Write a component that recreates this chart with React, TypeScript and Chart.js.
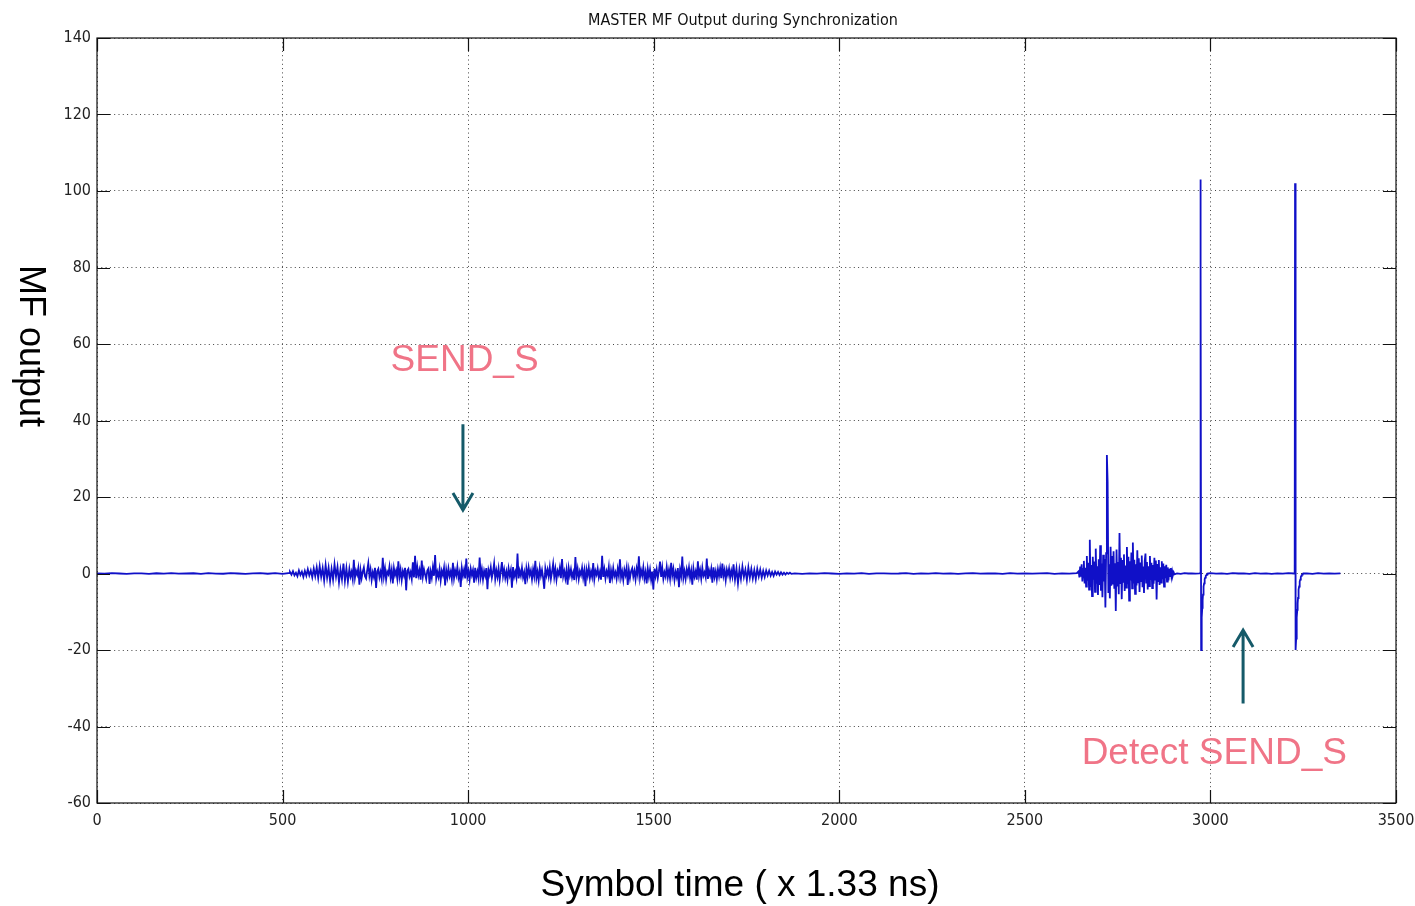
import { useEffect, useRef } from "react";
import { Chart, registerables } from "chart.js";

Chart.register(...registerables);

// ---------- data ----------
const CHART_TITLE = "MASTER MF Output during Synchronization";
const X_TITLE = "Symbol time ( x 1.33 ns)";
const Y_TITLE = "MF output";
const X_TICKS = [0, 500, 1000, 1500, 2000, 2500, 3000, 3500];
const Y_TICKS = [-60, -40, -20, 0, 20, 40, 60, 80, 100, 120, 140];

// quiet baseline before first burst (start 0, step 20)
const baseLeft = [0.03, -0.06, 0.08, 0.0, -0.08, 0.05, 0.02, -0.1, 0.06, -0.03, 0.08, -0.05, 0.0, 0.06, -0.08, 0.1, -0.02, -0.06, 0.08, 0.0, -0.1, 0.05, 0.08, -0.06, 0.1, -0.12, 0.15];
// SEND_S burst: rise (start 520, step 4)
const burst1Rise = [
  0.4, -0.3, 0.6, -0.5, 0.2, -0.7, 0.8, -0.4, 0.5, -0.9,
  0.7, -0.6, 1.1, -0.5, 0.8, -1.0, 1.3, -0.7, 1.6, -1.2,
  1.9, -0.9, 1.4, -1.8, 2.2, -1.1, 1.5, -2.0, 1.2, -1.6,
  2.4, -0.8, 1.7, -2.3, 1.1, -1.5, 2.6, -1.9, 1.4, -2.1,
];
// SEND_S burst: body (start 680, step 3)
const burst1Body = [
  1.2, -0.8, 0.4, -1.5, 3.6, -1.1, 0.7, -0.3, 1.4, -2.9, 0.9, -1.2, 0.5, 1.6, -0.7,
  -1.3, 0.8, 2.7, -0.6, 1.1, -1.7, 0.3, -0.9, 1.5, -3.8, 0.6, 1.2, -1.0, 0.4, -1.4,
  4.1, -0.7, 1.3, -1.6, 0.5, -0.2, 1.8, -1.1, 0.9, -2.6, 1.4, -0.4, 0.8, -1.3, 3.2,
  -0.9, 1.0, -1.7, 0.6, -0.5, 1.5, -4.4, 0.7, 1.2, -0.8, 0.3, -1.4, 2.9, -1.0, 4.6,
  -1.2, 1.7, -0.5, 0.9, -1.6, 3.4, -0.8, 1.1, -0.3, -1.5, 0.8, 1.3, -2.7, 0.5, -1.1,
  1.6, -0.6, 4.8, -1.3, 0.4, -0.9, 1.2, -1.8, 0.7, -0.4, 1.5, -3.1, 0.9, -1.0, 1.3,
  -0.7, 0.5, -1.5, 2.8, -1.2, 0.8, -0.5, 1.7, -1.1, 0.3, -3.5, 1.4, -0.6, 1.0, -1.3,
  3.9, -0.9, 0.6, -1.6, 1.2, -0.4, 0.9, -2.4, 1.5, -1.0, 0.5, -1.3, 4.2, -0.8, 1.1,
  -1.5, 0.7, -0.6, 1.4, -4.1, 0.9, -0.3, 1.6, -1.1, 0.4, 2.6, -1.4, 0.8, -0.9, 1.3,
  -1.7, 0.6, 3.0, -0.7, 1.0, -1.2, 0.5, -1.6, 1.3, -0.5, 0.9, -3.7, 1.7, -0.8, 0.4,
  -1.1, 5.2, -1.3, 0.7, -0.6, 1.5, -1.0, 0.3, -2.8, 1.2, -0.9, 1.6, -0.4, 0.8, -1.5,
  1.1, -0.7, 3.3, -1.2, 0.5, -1.8, 1.4, -0.6, 0.9, -1.1, -4.0, 1.3, -0.5, 1.0, -0.8,
  1.6, -1.4, 0.4, 2.5, -0.9, 1.2, -1.6, 0.7, -0.3, 1.5, -1.2, 3.8, -0.8, 0.6, -1.3,
  0.9, -2.9, 1.4, -0.5, 1.1, -1.0, 0.3, -1.7, 4.3, -0.7, 1.2, -1.4, 0.6, -0.4, 1.5,
  -1.1, 0.8, -3.3, 1.0, -0.6, 1.6, -1.2, 0.5, -0.9, 2.7, -1.5, 0.7, -0.3, 1.3, -1.0,
  0.4, -1.6, 4.6, -0.9, 1.1, -1.3, 0.6, -0.5, 1.7, -2.5, 0.8, -1.1, 1.4, -0.7, 0.3,
  -1.4, 1.2, -0.6, 3.7, -1.0, 0.5, -1.7, 1.0, -0.4, 1.5, -3.0, 0.9, -1.2, 0.6, 1.4,
  -0.8, 0.7, -1.5, 1.3, -0.3, 4.5, -1.1, 0.8, -0.6, 1.6, -1.3, 0.4, -2.6, 1.2, -0.9,
  1.0, -1.6, 0.5, -4.2, 1.3, -0.7, 1.1, -1.2, 0.6, 3.1, -0.9, 1.5, -1.4, 0.3, -0.8,
  1.7, -1.0, 0.9, -1.3, 2.8, -0.5, 1.2, -1.7, 0.4, -0.9, 1.4, -3.6, 1.0, -0.6, 4.4,
  -1.2, 0.6, -1.4, 1.1, -0.4, 1.6, -1.1, 0.7, -2.9, 1.3, -0.8, 0.5, -1.6, 3.2, -0.7,
  0.9, -1.3, 1.5, -0.6, 0.3, -1.0, 3.9, -1.4, 0.8, -0.5, 1.2, -2.4, 1.6, -0.9, 0.6,
  -1.5, 1.1, -0.7, 1.4, -1.2, 2.6, -0.6, 0.9, -1.7, 1.0, -0.4, 1.3, -1.1, 0.7, -0.8,
];
// SEND_S burst: fade (start 1715, step 4)
const burst1Fade = [
  2.4, -1.6, 1.3, -2.6, 1.1, -1.4, 1.8, -0.9, 1.0, -1.7,
  1.6, -1.1, 1.2, -1.3, 0.9, -1.5, 1.2, -0.8, 1.0, -1.1,
  0.7, -0.9, 0.8, -0.5, 0.7, -0.6, 0.4, -0.6, 0.5, -0.3,
  0.4, -0.4, 0.3, -0.3, 0.2, -0.3, 0.2, -0.1, 0.2, -0.1,
];
// quiet baseline (start 1880, step 20)
const baseMid = [0.05, -0.08, 0.03, -0.05, 0.1, 0.0, -0.08, 0.05, -0.03, 0.08, -0.1, 0.03, 0.05, -0.05, 0.0, 0.1, -0.08, 0.03, -0.05, 0.08,
  -0.03, 0.05, -0.1, 0.03, 0.08, -0.05, 0.0, 0.05, -0.08, 0.1, -0.03, 0.05, -0.05, 0.03, 0.08, -0.1, 0.05, -0.03, 0.1];
// reply burst (start 2645, step 2)
const burst2 = [
  0.6, -1.0, 1.8, -0.8, 2.4, -2.1, 1.2, 3.3, -2.6, 1.5, -3.4, 4.6, -1.9, 2.8, -4.2,
  8.8, -3.5, 2.2, -5.9, 4.4, -1.6, 3.1, -4.8, 6.5, -2.7, 1.9, -5.6, 3.7, -3.0, 7.4,
  -4.5, 2.6, -6.2, 4.9, -2.1, 3.8, -8.9, 5.3, 31.0, 24.0, -5.1, 2.4, -6.5, 7.0, -3.2,
  4.6, -2.9, 5.8, -4.0, 2.7, -9.8, 6.3, -3.4, 3.0, -5.4, 10.6, -2.5, 4.1, -6.7, 3.5,
  -2.2, 5.0, -4.6, 2.1, -3.7, 6.9, -2.8, 4.4, -7.1, 3.2, -1.8, 5.5, -3.9, 8.1, -2.6,
  3.6, -5.3, 2.4, -3.1, 6.1, -2.3, 4.0, -4.8, 2.9, -2.0, 4.7, -3.6, 1.8, -5.1, 3.3,
  5.2, -2.4, 3.0, -4.2, 1.9, -3.3, 4.6, -1.7, 2.8, -3.8, 2.2, -2.7, 4.1, -1.6, 3.4,
  -6.8, 2.5, -2.0, 3.5, -3.0, 1.6, -2.4, 3.2, -1.5, 2.6, -3.4, 1.9, -1.2, 2.3, -2.1,
  1.6, -1.8, 1.2, -0.9, 1.4, -0.7, 0.6, -0.4, 0.3, -0.2,
];
// baseline (start 2910, step 10)
const baseRight1 = [0.05, -0.08, 0.1, 0.0, 0.05, -0.05, 0.03];
// first detection peak (start 2972, step 1)
const spike1 = [0.1, 103, 80, -20, -15, -11.5, -9, -7, -5.5, -4.3, -3.4, -2.6, -2, -1.5, -1.1, -0.8, -0.6, -0.4, -0.3, -0.2, -0.1, 0];
// baseline (start 3000, step 15)
const baseRight2 = [0.08, -0.05, 0.05, -0.1, 0.12, 0.0, 0.05, -0.08, 0.1, -0.03, 0.05, -0.1, 0.03, -0.05, 0.08, 0.0];
// second detection peak (start 3227, step 1)
const spike2 = [0.1, 102, 80, -20, -17, -14, -11.5, -9.5, -7.8, -6.4, -5.2, -4.2, -3.4, -2.7, -2.1, -1.6, -1.2, -0.9, -0.6, -0.4, -0.3, -0.2, -0.1, 0];
// baseline (start 3260, step 15)
const baseRight3 = [0.05, -0.08, 0.1, -0.03, 0.05, -0.05, 0.03];

// annotations (data coordinates)
const ANNOTATIONS = [
  { text: "SEND_S", x: 791, y: 53, arrowX: 986, arrowFrom: 39, arrowTo: 16.6 },
  { text: "Detect SEND_S", x: 2653, y: -49.8, arrowX: 3088, arrowFrom: -34, arrowTo: -14.8 },
];

function segment(start: number, step: number, values: number[]) {
  return values.map((v, i) => ({ x: start + i * step, y: v }));
}

const SERIES = [
  ...segment(0, 20, baseLeft),
  ...segment(520, 4, burst1Rise),
  ...segment(680, 3, burst1Body),
  ...segment(1715, 4, burst1Fade),
  ...segment(1880, 20, baseMid),
  ...segment(2645, 2, burst2),
  ...segment(2910, 10, baseRight1),
  ...segment(2972, 1, spike1),
  ...segment(3000, 15, baseRight2),
  ...segment(3227, 1, spike2),
  ...segment(3260, 15, baseRight3),
];

const NARROW = '"Liberation Sans Narrow", "DejaVu Sans Condensed", "Arial Narrow", sans-serif';
const SANS = '"Liberation Sans", Arial, sans-serif';
const PINK = "#f07487";
const TEAL = "#155a69";

const decorPlugin = {
  id: "decor",
  afterDraw(chart: any) {
    const { ctx, chartArea: a, scales } = chart;
    const xs = scales.x;
    const ys = scales.y;
    ctx.save();
    // box
    ctx.strokeStyle = "#111";
    ctx.lineWidth = 1.2;
    ctx.strokeRect(a.left, a.top, a.right - a.left, a.bottom - a.top);
    // inward ticks
    const TL = 13;
    ctx.beginPath();
    X_TICKS.forEach((v) => {
      const px = Math.round(xs.getPixelForValue(v)) + 0.5;
      ctx.moveTo(px, a.bottom);
      ctx.lineTo(px, a.bottom - TL);
      ctx.moveTo(px, a.top);
      ctx.lineTo(px, a.top + TL);
    });
    Y_TICKS.forEach((v) => {
      const py = Math.round(ys.getPixelForValue(v)) + 0.5;
      ctx.moveTo(a.left, py);
      ctx.lineTo(a.left + TL, py);
      ctx.moveTo(a.right, py);
      ctx.lineTo(a.right - TL, py);
    });
    ctx.stroke();

    // title
    ctx.fillStyle = "#111";
    ctx.font = `16px ${NARROW}`;
    ctx.textAlign = "center";
    ctx.textBaseline = "alphabetic";
    ctx.fillText(CHART_TITLE, 743, 25);

    // x title
    ctx.fillStyle = "#000";
    ctx.font = `37px ${SANS}`;
    ctx.textBaseline = "middle";
    ctx.fillText(X_TITLE, 740, 886);

    // y title (rotated clockwise)
    ctx.save();
    ctx.translate(30, 346);
    ctx.rotate(Math.PI / 2);
    ctx.font = `36px ${SANS}`;
    ctx.textAlign = "center";
    ctx.textBaseline = "middle";
    ctx.fillText(Y_TITLE, 0, 0);
    ctx.restore();

    // annotations
    ANNOTATIONS.forEach((an) => {
      ctx.fillStyle = PINK;
      ctx.font = `37px ${SANS}`;
      ctx.textAlign = "left";
      ctx.textBaseline = "alphabetic";
      ctx.fillText(an.text, xs.getPixelForValue(an.x), ys.getPixelForValue(an.y));

      const ax = xs.getPixelForValue(an.arrowX);
      const y0 = ys.getPixelForValue(an.arrowFrom);
      const y1 = ys.getPixelForValue(an.arrowTo);
      const dir = y1 > y0 ? 1 : -1;
      ctx.strokeStyle = TEAL;
      ctx.lineWidth = 3;
      ctx.lineCap = "butt";
      ctx.beginPath();
      ctx.moveTo(ax, y0);
      ctx.lineTo(ax, y1);
      ctx.moveTo(ax - 10, y1 - dir * 17);
      ctx.lineTo(ax, y1);
      ctx.lineTo(ax + 10, y1 - dir * 17);
      ctx.stroke();
    });
    ctx.restore();
  },
};

export default function App() {
  const ref = useRef<HTMLCanvasElement | null>(null);
  useEffect(() => {
    document.body.style.margin = "0";
    document.body.style.overflow = "hidden";
    const canvas = ref.current;
    if (!canvas) return;
    const gridOpts = {
      color: "#444",
      lineWidth: 1,
      drawTicks: false,
      tickLength: 0,
    };
    const tickFont = { family: NARROW, size: 16 };
    const chart = new Chart(canvas, {
      type: "line",
      data: {
        datasets: [
          {
            data: SERIES,
            borderColor: "#1010c8",
            borderWidth: 1.8,
            pointRadius: 0,
            tension: 0,
            fill: false,
          },
        ],
      },
      options: {
        animation: false,
        responsive: false,
        parsing: false,
        layout: { padding: { top: 38, right: 19, left: 0, bottom: 0 } },
        plugins: { legend: { display: false }, title: { display: false }, tooltip: { enabled: false } },
        scales: {
          x: {
            type: "linear",
            min: 0,
            max: 3500,
            afterBuildTicks: (s: any) => {
              s.ticks = X_TICKS.map((v) => ({ value: v }));
            },
            afterFit: (s: any) => {
              s.height = 103;
              s.paddingLeft = 0;
              s.paddingRight = 0;
            },
            ticks: {
              color: "#222",
              font: tickFont,
              padding: 8,
              maxRotation: 0,
              autoSkip: false,
              callback: (v: any) => String(v),
            },
            grid: gridOpts,
            border: { display: false, dash: [1, 3.3] },
          },
          y: {
            type: "linear",
            min: -60,
            max: 140,
            afterBuildTicks: (s: any) => {
              s.ticks = Y_TICKS.map((v) => ({ value: v }));
            },
            afterFit: (s: any) => {
              s.width = 97;
              s.paddingTop = 0;
              s.paddingBottom = 0;
            },
            ticks: {
              color: "#222",
              font: tickFont,
              padding: 6,
              autoSkip: false,
              callback: (v: any) => String(v),
            },
            grid: gridOpts,
            border: { display: false, dash: [1, 3.3] },
          },
        },
      },
      plugins: [decorPlugin],
    } as any);
    return () => chart.destroy();
  }, []);
  return <canvas ref={ref} width={1415} height={906} style={{ display: "block" }} />;
}
